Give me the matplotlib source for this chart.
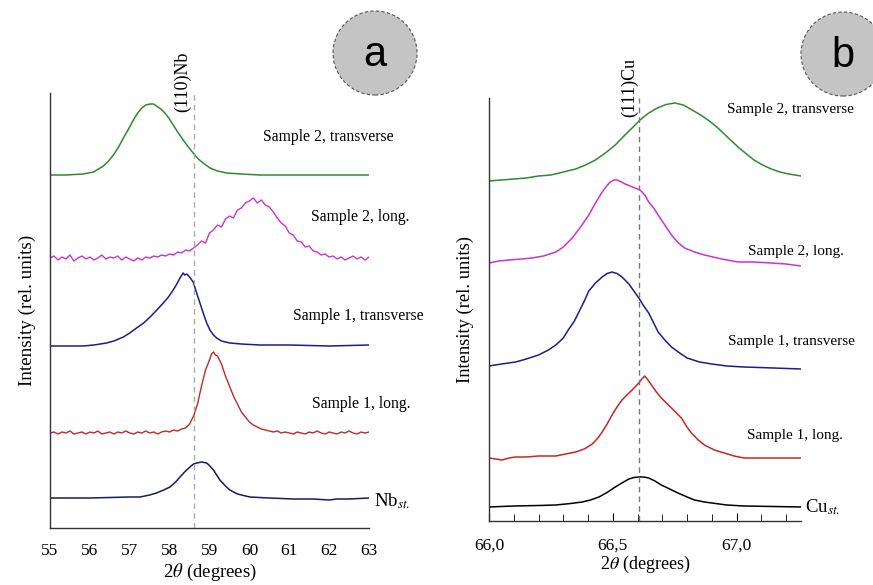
import matplotlib
matplotlib.use("Agg")
import matplotlib.pyplot as plt
from matplotlib.patches import Ellipse
from matplotlib.ticker import MultipleLocator

plt.rcParams['font.family'] = ['Liberation Serif', 'DejaVu Serif']
plt.rcParams['mathtext.fontset'] = 'stix'

# -------- Panel a: Nb (110) --------
a_s2t_x = [55.0, 55.4, 55.83, 56.09, 56.34, 56.47, 56.59, 56.72, 56.84, 56.97, 57.09, 57.2, 57.3,
           57.4, 57.51, 57.6, 57.67, 57.78, 57.88, 57.98, 58.09, 58.2, 58.34, 58.47, 58.59, 58.72,
           58.84, 59.01, 59.2, 59.43, 59.8, 60.26, 61.0, 62.0, 63.0]
a_s2t_y = [353, 353, 354, 356, 362, 367, 373, 381, 390, 399, 408, 415, 420,
           423, 424, 424, 422, 419, 415, 410, 403, 396, 388, 381, 375, 369,
           365, 360, 357, 355, 354, 353, 353, 353, 353]

a_s2l_x = [55.0, 55.1, 55.2, 55.3, 55.4, 55.5, 55.6, 55.7, 55.8, 55.9, 56.0, 56.1, 56.2, 56.3,
           56.4, 56.5, 56.6, 56.7, 56.8, 56.9, 57.0, 57.1, 57.2, 57.3, 57.4, 57.5, 57.6, 57.7,
           57.8, 57.9, 58.0, 58.1, 58.2, 58.3, 58.4, 58.5, 58.6, 58.7, 58.8, 58.9, 59.0, 59.1,
           59.2, 59.3, 59.4, 59.5, 59.6, 59.7, 59.8, 59.9, 60.0, 60.1, 60.2, 60.3, 60.4, 60.5,
           60.6, 60.7, 60.8, 60.9, 61.0, 61.1, 61.2, 61.3, 61.4, 61.5, 61.6, 61.7, 61.8, 61.9,
           62.0, 62.1, 62.2, 62.3, 62.4, 62.5, 62.6, 62.7, 62.8, 62.9, 63.0]
a_s2l_y = [270, 272, 268, 271, 269, 273, 267, 270, 272, 269, 271, 268, 270, 273,
           269, 271, 270, 272, 268, 271, 269, 267, 270, 268, 271, 270, 272, 271,
           273, 272, 274, 273, 276, 275, 278, 277, 280, 283, 287, 285, 295, 298,
           303, 301, 309, 312, 310, 318, 320, 325, 327, 330, 325, 328, 323, 321,
           316, 310, 305, 302, 295, 293, 287, 286, 281, 282, 277, 276, 273, 274,
           271, 272, 269, 271, 268, 270, 272, 269, 271, 268, 271]

a_s1t_x = [55.0, 55.4, 55.83, 56.1, 56.42, 56.6, 56.84, 57.0, 57.17, 57.35, 57.51, 57.68, 57.84,
           57.97, 58.09, 58.18, 58.26, 58.34, 58.38, 58.43, 58.5, 58.59, 58.67, 58.76, 58.85,
           58.93, 59.01, 59.1, 59.18, 59.3, 59.51, 59.8, 60.26, 61.0, 62.0, 63.0]
a_s1t_y = [182, 182, 182, 183, 185, 187, 191, 195, 200, 205, 211, 218, 225,
           231, 238, 244, 250, 255, 253, 254, 251, 246, 236, 225, 214,
           205, 198, 193, 190, 187, 185, 184, 183, 183, 182, 183]

a_s1l_x = [55.0, 55.1, 55.2, 55.3, 55.4, 55.5, 55.6, 55.7, 55.8, 55.9, 56.0, 56.1, 56.2, 56.3,
           56.4, 56.5, 56.6, 56.7, 56.8, 56.9, 57.0, 57.1, 57.2, 57.3, 57.4, 57.5, 57.6, 57.7,
           57.8, 57.9, 58.0, 58.1, 58.2, 58.3, 58.4, 58.5, 58.6, 58.7, 58.8, 58.9, 59.0, 59.05,
           59.1, 59.15, 59.2, 59.3, 59.4, 59.5, 59.6, 59.7, 59.8, 59.9, 60.0, 60.1, 60.2, 60.3,
           60.4, 60.5, 60.6, 60.7, 60.8, 60.9, 61.0, 61.1, 61.2, 61.3, 61.4, 61.5, 61.6, 61.7,
           61.8, 61.9, 62.0, 62.1, 62.2, 62.3, 62.4, 62.5, 62.6, 62.7, 62.8, 62.9, 63.0]
a_s1l_y = [95, 96, 94, 96, 95, 97, 94, 95, 96, 94, 96, 95, 97, 94,
           95, 96, 94, 96, 95, 97, 95, 94, 96, 95, 97, 95, 96, 94,
           96, 97, 96, 98, 97, 99, 100, 104, 112, 124, 142, 158, 168, 174,
           176, 173, 172, 164, 152, 142, 132, 124, 116, 111, 106, 103, 101, 99,
           98, 97, 96, 97, 95, 96, 95, 94, 96, 95, 94, 96, 95, 97,
           95, 94, 96, 95, 94, 96, 95, 97, 95, 94, 96, 95, 96]

a_st_x = [55.0, 56.0, 57.0, 57.26, 57.5, 57.67, 57.85, 58.01, 58.15, 58.26, 58.4, 58.51, 58.6,
          58.68, 58.8, 58.93, 59.01, 59.1, 59.18, 59.26, 59.4, 59.51, 59.7, 60.01, 60.5, 61.1,
          61.6, 62.0, 62.19, 62.5, 63.0]
a_st_y = [30, 30, 31, 31, 33, 35, 38, 41, 46, 51, 57, 61, 64,
          65, 66, 65, 62, 58, 53, 48, 42, 38, 34, 31, 30, 29,
          29, 28, 29, 29, 30]

# -------- Panel b: Cu (111) --------
b_s2t_x = [66.0, 66.05, 66.1, 66.15, 66.2, 66.25, 66.3, 66.35, 66.39, 66.43, 66.47, 66.51, 66.545,
           66.578, 66.61, 66.645, 66.68, 66.715, 66.75, 66.785, 66.82, 66.855, 66.89, 66.92, 66.95,
           66.98, 67.01, 67.04, 67.07, 67.105, 67.14, 67.175, 67.21, 67.26]
b_s2t_y = [340, 341, 342, 343, 345, 346, 349, 352, 356, 361, 368, 376, 385,
           393, 401, 408, 413, 416.5, 418, 416, 411, 406, 400, 394, 387,
           380, 373, 367, 361, 356, 352, 349, 347, 345]

b_s2l_x = [66.0, 66.04, 66.08, 66.13, 66.175, 66.22, 66.27, 66.3, 66.336, 66.37, 66.403, 66.43,
           66.457, 66.475, 66.49, 66.505, 66.517, 66.535, 66.55, 66.57, 66.59, 66.61, 66.629,
           66.645, 66.665, 66.683, 66.71, 66.737, 66.765, 66.79, 66.83, 66.87, 66.94, 67.005,
           67.07, 67.14, 67.2, 67.26]
b_s2l_y = [258, 260, 261, 262, 263, 265, 269, 274, 283, 294, 306, 318,
           329, 335, 339, 341, 341, 339, 337, 335, 333, 331, 326,
           319, 313, 306, 296, 286, 278, 273, 269, 266, 262, 259,
           259, 258, 257, 255]

b_s1t_x = [66.0, 66.05, 66.108, 66.15, 66.2, 66.24, 66.27, 66.3, 66.32, 66.345, 66.363, 66.385,
           66.403, 66.43, 66.457, 66.477, 66.497, 66.517, 66.537, 66.565, 66.585, 66.605, 66.625,
           66.645, 66.665, 66.683, 66.71, 66.737, 66.77, 66.8, 66.85, 66.9, 66.96, 67.03, 67.15,
           67.26]
b_s1t_y = [155, 157, 159, 162, 166, 171, 176, 183, 191, 200, 209, 220,
           230, 238, 244, 247.5, 249, 247.5, 244, 237, 230, 223, 215,
           208, 198, 189, 181, 174, 168, 163, 159, 157, 155, 154, 153,
           152]

b_s1l_x = [66.0, 66.027, 66.054, 66.08, 66.108, 66.15, 66.2, 66.235, 66.27, 66.31, 66.35, 66.385,
           66.417, 66.44, 66.457, 66.477, 66.497, 66.517, 66.537, 66.557, 66.578, 66.605, 66.617,
           66.629, 66.642, 66.656, 66.676, 66.696, 66.716, 66.737, 66.757, 66.777, 66.797, 66.817,
           66.845, 66.87, 66.91, 66.95, 66.99, 67.03, 67.1, 67.18, 67.26]
b_s1l_y = [63, 62, 61, 63, 64, 64, 65, 65, 65, 67, 69, 72,
           77, 83, 89, 97, 106, 114, 121, 126, 131, 138, 142,
           145, 141, 136, 129, 123, 118, 113, 108, 103, 95, 88,
           81, 76, 71, 68, 65, 63, 63, 63, 63]

b_st_x = [66.0, 66.1, 66.2, 66.27, 66.33, 66.376, 66.41, 66.444, 66.48, 66.51, 66.54, 66.565,
          66.585, 66.605, 66.625, 66.645, 66.67, 66.696, 66.73, 66.763, 66.8, 66.83, 66.87, 66.9,
          66.96, 67.03, 67.15, 67.26]
b_st_y = [14, 15, 15.5, 16, 17.5, 19, 21, 24, 29, 34, 38.5, 42,
          43.5, 44, 44, 43, 40, 36, 32, 28, 24, 21, 19, 18,
          16, 15, 14.5, 14]

labels = ['Sample 2, transverse', 'Sample 2, long.', 'Sample 1, transverse', 'Sample 1, long.']
a_label_pos = [(60.34, 391), (61.54, 311), (61.09, 212), (61.57, 124)]
b_label_pos = [(66.96, 411), (67.044, 269), (66.964, 179), (67.04, 86)]

GREEN, MAGENTA, BLUE, RED, NAVY = '#2f8a2f', '#cc33cc', '#1c1c8c', '#c42828', '#1a1a60'

fig = plt.figure(figsize=(8.73, 5.85), dpi=100)
W, H = 873, 585

def px_axes(l, t, r, b):
    return fig.add_axes([l / W, 1 - b / H, (r - l) / W, (b - t) / H])

axa = px_axes(50, 93, 369, 528)
axb = px_axes(489, 98, 801, 521)

# --- panel a ---
axa.plot(a_s2t_x, a_s2t_y, color=GREEN, lw=1.1)
axa.plot(a_s2l_x, a_s2l_y, color=MAGENTA, lw=1.0)
axa.plot(a_s1t_x, a_s1t_y, color=BLUE, lw=1.1)
axa.plot(a_s1l_x, a_s1l_y, color=RED, lw=1.0)
axa.plot(a_st_x, a_st_y, color=NAVY, lw=1.1)
axa.axvline(58.61, color='#aaaaaa', ls=(0, (4, 3)), lw=1.0)
axa.set_xlim(55, 63)
axa.set_ylim(0, 435)
axa.set_xticks(range(55, 64))
axa.tick_params(axis='x', length=0, pad=11, labelsize=12.5)
for lab, (x, y) in zip(labels, a_label_pos):
    axa.text(x, y, lab, fontsize=11.3, va='center', ha='left')
axa.text(63.12, 27, r'Nb$_{st.}$', fontsize=13.5, va='center', ha='left')

# --- panel b ---
axb.plot(b_s2t_x, b_s2t_y, color=GREEN, lw=1.1)
axb.plot(b_s2l_x, b_s2l_y, color=MAGENTA, lw=1.1)
axb.plot(b_s1t_x, b_s1t_y, color=BLUE, lw=1.1)
axb.plot(b_s1l_x, b_s1l_y, color=RED, lw=1.1)
axb.plot(b_st_x, b_st_y, color='black', lw=1.1)
axb.axvline(66.605, color='#777777', ls=(0, (4, 3)), lw=1.0)
axb.set_xlim(66.0, 67.26)
axb.set_ylim(0, 423)
axb.xaxis.set_major_locator(MultipleLocator(0.5))
axb.xaxis.set_minor_locator(MultipleLocator(0.1))
axb.xaxis.set_major_formatter(lambda v, p: f'{v:.1f}'.replace('.', ','))
axb.tick_params(axis='x', which='both', direction='in', pad=12, labelsize=12.5)
axb.tick_params(axis='x', which='major', length=6)
axb.tick_params(axis='x', which='minor', length=5)
for lab, (x, y) in zip(labels, b_label_pos):
    axb.text(x, y, lab, fontsize=11, va='center', ha='left')
axb.text(67.278, 14, r'Cu$_{st.}$', fontsize=13.5, va='center', ha='left')

for ax, lx, ly, fs_y, fs_x in [(axa, -14 / 319, -34 / 435, 13.8, 13.5),
                               (axb, -15 / 312, -33 / 423, 13.3, 13.0)]:
    ax.spines['top'].set_visible(False)
    ax.spines['right'].set_visible(False)
    for s in ('left', 'bottom'):
        ax.spines[s].set_color('#333333')
        ax.spines[s].set_linewidth(1.0)
    ax.set_yticks([])
    ax.set_ylabel('Intensity (rel. units)', fontsize=fs_y)
    ax.set_xlabel(r'2$\theta$ (degrees)', fontsize=fs_x)
    ax.yaxis.set_label_coords(lx, 0.5)
    ax.xaxis.set_label_coords(0.5, ly)

# peak reference labels
fig.text(183 / W, 1 - 82 / H, '(110)Nb', rotation=90, fontsize=13, ha='center', va='center')
fig.text(630 / W, 1 - 87 / H, '(111)Cu', rotation=90, fontsize=13, ha='center', va='center')

# panel letters in grey circles
for cx, cy, letter in [(375, 53, 'a'), (843, 54, 'b')]:
    fig.add_artist(Ellipse((cx / W, 1 - cy / H), 84 / W, 84 / H, transform=fig.transFigure,
                           facecolor='#c4c4c4', edgecolor='#555555', lw=0.8, ls=(0, (3, 2))))
    fig.text(cx / W, 1 - (cy + 2) / H, letter, fontsize=30, ha='center', va='center',
             family=['Liberation Sans', 'DejaVu Sans'])

fig.savefig('out.png', dpi=100)
